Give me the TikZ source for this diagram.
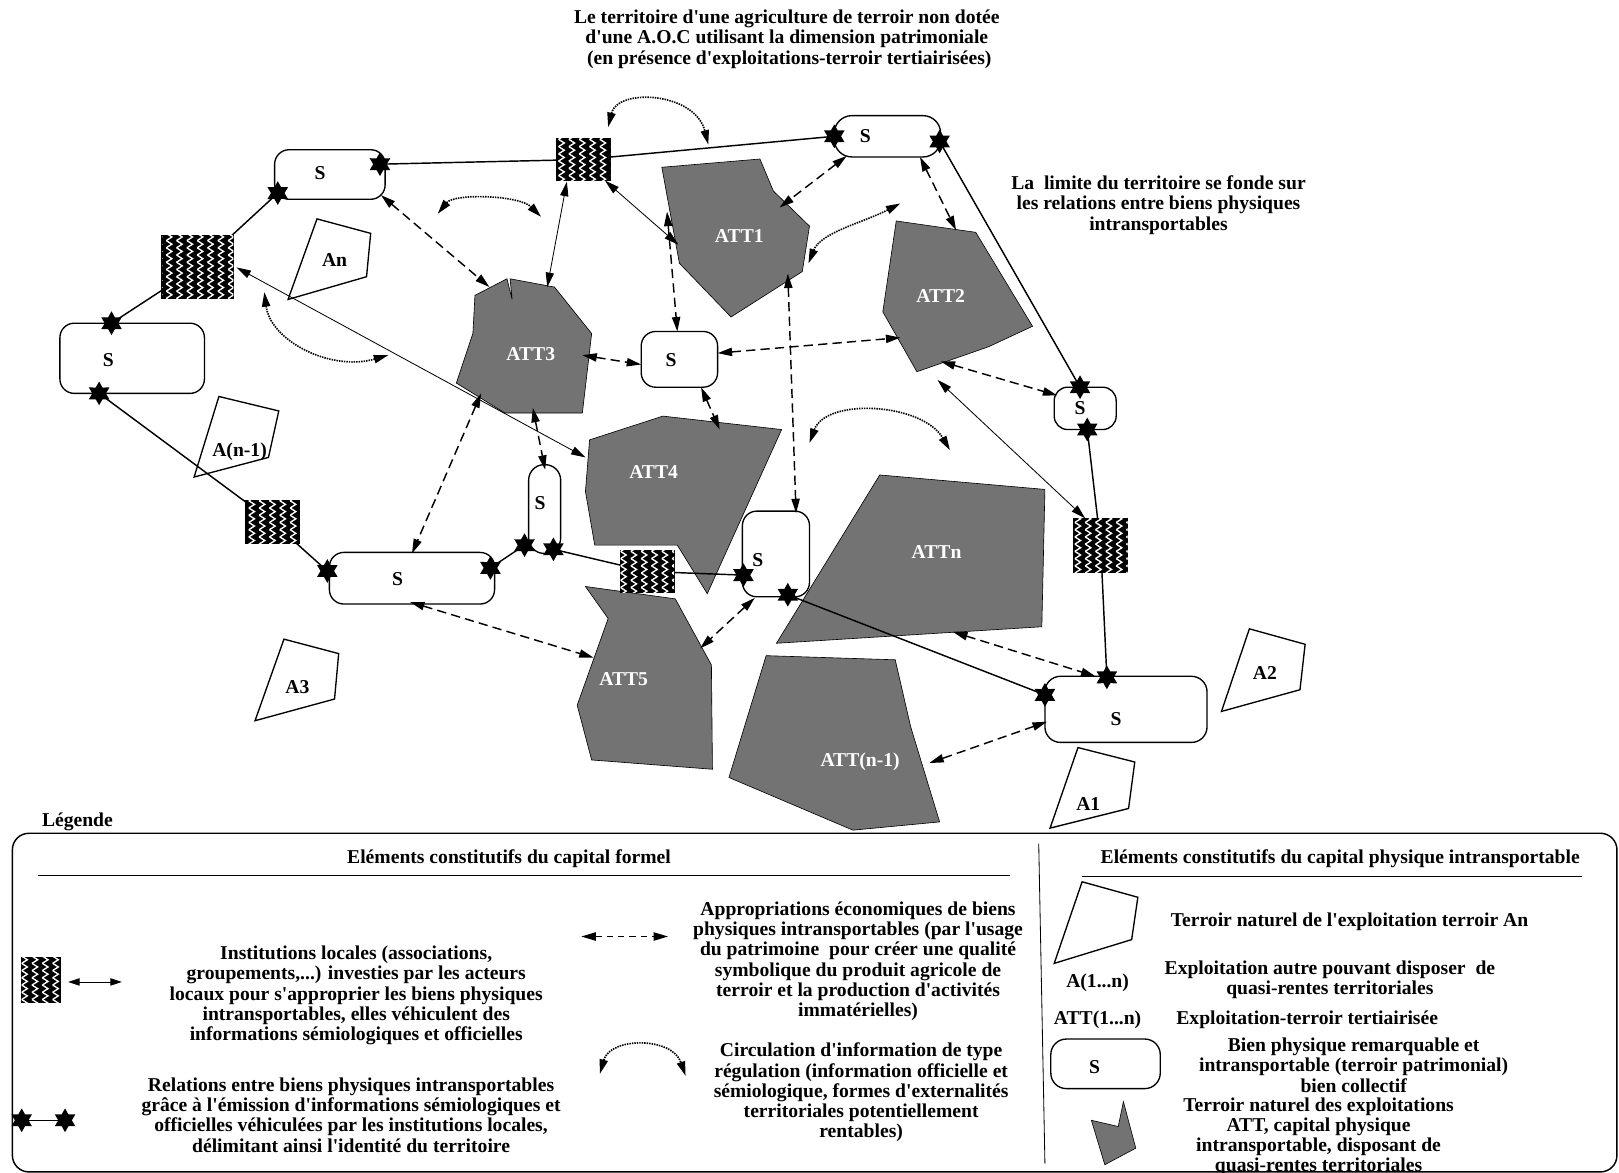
\documentclass[tikz,border=0pt]{standalone}
\usepackage{fontspec}
\newfontfamily\lserif{Liberation Serif}
\usepackage{xcolor}
\usepackage{tikz}
\usetikzlibrary{arrows.meta,positioning,shapes.geometric,patterns}
\definecolor{attgray}{RGB}{115,115,115}
\pgfdeclarelayer{bg}
\pgfsetlayers{bg,main}
\pgfdeclarepatternformonly{zigzag}{\pgfpoint{-1pt}{-1pt}}{\pgfpoint{11pt}{8pt}}{\pgfpoint{10pt}{7pt}}{%
  \pgfsetlinewidth{1.3pt}%
  \pgfpathmoveto{\pgfpoint{1pt}{0pt}}%
  \pgfpathlineto{\pgfpoint{6.5pt}{3.5pt}}%
  \pgfpathlineto{\pgfpoint{1pt}{7pt}}%
  \pgfusepath{stroke}%
}

\begin{document}
\begin{tikzpicture}[x=1pt, y=-1pt,
  txt/.style={font=\lserif\fontsize{19}{19.6}\selectfont\bfseries, align=center, inner sep=0pt},
  wtxt/.style={txt, text=white},
  sbox/.style={draw, line width=1.3pt, fill=white, rounded corners=14pt, inner sep=0pt},
  inst/.style={draw, line width=1.2pt, fill=black, inner sep=0pt,
               postaction={pattern=zigzag, pattern color=white}},
  etoile/.style={star, star points=6, star point ratio=1.75, fill=black,
                 minimum size=23pt, inner sep=0pt},
  rel/.style={line width=1.4pt},
  att/.style={fill=attgray, draw=black, line width=0.6pt},
  aterr/.style={draw=black, fill=white, line width=1.3pt},
  bothtips/.style={{Triangle[length=14pt,width=8pt]}-{Triangle[length=14pt,width=8pt]}},
  fin/.style={bothtips, line width=0.8pt},
  appr/.style={bothtips, line width=1.4pt, dash pattern=on 9pt off 5pt},
  circul/.style={bothtips, line width=1.6pt, dash pattern=on 1.4pt off 1pt}
]
  \useasboundingbox (0,0) rectangle (1568,1136);

  \node[txt] (titre) at (762,38) {Le territoire d'une agriculture de terroir non dotée\\
    d'une A.O.C utilisant la dimension patrimoniale\\
    \ (en présence d'exploitations-terroir tertiairisées)};
  \node[txt] (limite) at (1122,198.6) {La\ \ limite du territoire se fonde sur\\
    les relations entre biens physiques\\ intransportables};

  % biens physiques S
  \node[sbox, minimum width=107pt, minimum height=48pt] (sa) at (319.5,169) {};
  \node[sbox, minimum width=103pt, minimum height=40pt, rounded corners=17pt] (sb) at (859.5,132) {};
  \node[sbox, minimum width=140pt, minimum height=68pt] (sc) at (128,347) {};
  \node[sbox, minimum width=74pt, minimum height=54pt] (sd) at (658,348) {};
  \node[sbox, minimum width=60pt, minimum height=41pt, rounded corners=13pt] (se) at (1051,395.5) {};
  \node[sbox, minimum width=31pt, minimum height=86pt, rounded corners=15pt] (sf) at (527.5,493) {};
  \node[sbox, minimum width=160pt, minimum height=50pt] (sg) at (399,560) {};
  \node[sbox, minimum width=65pt, minimum height=83pt] (sh) at (751.5,536.5) {};
  \node[sbox, minimum width=157pt, minimum height=64pt, rounded corners=15pt] (si) at (1090.5,687) {};
  \node[txt] (sa-t) at (310,168) {S};
  \node[txt] (sb-t) at (838,132) {S};
  \node[txt] (sc-t) at (105,349) {S};
  \node[txt] (sd-t) at (650,349) {S};
  \node[txt] (se-t) at (1046,395) {S};
  \node[txt] (sf-t) at (523,487) {S};
  \node[txt] (sg-t) at (385,561) {S};
  \node[txt] (sh-t) at (734,542) {S};
  \node[txt] (si-t) at (1081,696) {S};

  % institutions locales
  \node[inst, minimum width=52pt, minimum height=41pt] (h1) at (565,154.5) {};
  \node[inst, minimum width=69pt, minimum height=61pt] (h2) at (191.5,258.5) {};
  \node[inst, minimum width=52pt, minimum height=41pt] (h3) at (264,505.5) {};
  \node[inst, minimum width=52pt, minimum height=41pt] (h4) at (627,553.5) {};
  \node[inst, minimum width=52pt, minimum height=52pt] (h5) at (1066,528) {};

  % etoiles
  \node[etoile] (sa-r) at (368,159) {};
  \node[etoile] (sa-g) at (269,187) {};
  \node[etoile] (sb-g) at (808,132) {};
  \node[etoile] (sb-r) at (910,137) {};
  \node[etoile] (sc-h) at (108,313) {};
  \node[etoile] (sc-b) at (96,381) {};
  \node[etoile] (se-h) at (1046,375) {};
  \node[etoile] (se-b) at (1053,416) {};
  \node[etoile] (sg-g) at (317,553) {};
  \node[etoile] (sg-r) at (475,550) {};
  \node[etoile] (sf-g) at (508,528) {};
  \node[etoile] (sf-r) at (536,532) {};
  \node[etoile] (sh-g) at (720,557) {};
  \node[etoile] (sh-b) at (763,576) {};
  \node[etoile] (si-g) at (1012,673) {};
  \node[etoile] (si-h) at (1072,656) {};

  % exploitations
  \node[txt] (an) at (324,252) {An};
  \node[txt] (an1) at (232,438) {A(n-1)};
  \node[txt] (a3) at (288,665) {A3};
  \node[txt] (a2) at (1225,652) {A2};
  \node[txt] (a1) at (1054,779) {A1};
  \node[wtxt] (att1) at (716,229) {ATT1};
  \node[wtxt] (att2) at (911,287) {ATT2};
  \node[wtxt] (att3) at (514,343) {ATT3};
  \node[wtxt] (att4) at (633,457) {ATT4};
  \node[wtxt] (att5) at (604,658) {ATT5};
  \node[wtxt] (attn) at (907,535) {ATTn};
  \node[wtxt] (attm) at (833,738) {ATT(n-1)};

  \begin{pgfonlayer}{bg}
    \draw[aterr] (307,212) -- (359,226) -- (355,268) -- (279,290) -- cycle;
    \draw[aterr] (212,384) -- (270,398) -- (260,443) -- (188,462) -- cycle;
    \draw[aterr] (275,619) -- (328,633) -- (324,677) -- (247,698) -- cycle;
    \draw[aterr] (1210,609) -- (1264,624) -- (1259,668) -- (1183,689) -- cycle;
    \draw[aterr] (1044,724) -- (1099,738) -- (1093,783) -- (1017,802) -- cycle;
    \draw[att] (641,162) -- (736,154) -- (749,185) -- (784,219) -- (777,263) -- (708,307) -- (658,255) -- cycle;
    \draw[att] (868,214) -- (945,225) -- (1000,316) -- (957,336) -- (888,360) -- (855,302) -- cycle;
    \draw[att] (460,286) -- (491,270) -- (496,290) -- (494,270) -- (537,278) -- (573,323) -- (564,400) -- (489,400) -- (442,371) -- (458,323) -- cycle;
    \draw[att] (571,426) -- (642,403) -- (757,416) -- (685,575) -- (656,528) -- (576,528) -- (567,476) -- cycle;
    \draw[att] (567,568) -- (654,580) -- (689,644) -- (690,745) -- (573,736) -- (559,683) -- (589,599) -- cycle;
    \draw[att] (852,460) -- (1012,474) -- (1009,607) -- (752,623) -- cycle;
    \draw[att] (742,635) -- (867,639) -- (882,704) -- (910,796) -- (826,804) -- (706,753) -- cycle;

    \draw[rel] (sa-r.center) -- (h1.center) -- (sb-g.center);
    \draw[rel] (sa-g.center) -- (h2.center) -- (sc-h.center);
    \draw[rel] (sc-b.center) -- (h3.center) -- (sg-g.center);
    \draw[rel] (sg-r.center) -- (sf-g.center);
    \draw[rel] (sf-r.center) -- (h4.center) -- (sh-g.center);
    \draw[rel] (sh-b.center) -- (si-g.center);
    \draw[rel] (sb-r.center) -- (se-h.center);
    \draw[rel] (se-b.center) -- (h5.center) -- (si-h.center);
  \end{pgfonlayer}

  % appropriations
  \coordinate (sa-a) at (369,189);    \coordinate (att3-a) at (474,278);
  \coordinate (sb-a) at (820,151);    \coordinate (att1-a) at (755,201);
  \coordinate (sb-b) at (891,152);    \coordinate (att2-a) at (926,223);
  \coordinate (att1-b) at (646,205);  \coordinate (sd-a) at (656,321);
  \coordinate (att3-b) at (564,344);  \coordinate (sd-b) at (621,353);
  \coordinate (sd-c) at (695,342);    \coordinate (att2-b) at (872,327);
  \coordinate (sd-d) at (679,375);    \coordinate (att4-a) at (697,416);
  \coordinate (att1-c) at (763,265);  \coordinate (sh-a) at (771,497);
  \coordinate (att2-c) at (911,350);  \coordinate (se-a) at (1024,383);
  \coordinate (att3-c) at (466,381);  \coordinate (sg-a) at (399,536);
  \coordinate (att3-d) at (516,395);  \coordinate (sf-a) at (528,455);
  \coordinate (sg-b) at (397,583);    \coordinate (att5-a) at (575,637);
  \coordinate (sh-c) at (731,579);    \coordinate (att5-b) at (678,628);
  \coordinate (attn-a) at (923,612);  \coordinate (si-a) at (1061,655);
  \coordinate (si-b) at (1014,699);   \coordinate (attm-a) at (900,739);
  \draw[appr] (sa-a) -- (att3-a);
  \draw[appr] (sb-a) -- (att1-a);
  \draw[appr] (sb-b) -- (att2-a);
  \draw[appr] (att1-b) -- (sd-a);
  \draw[appr] (att3-b) -- (sd-b);
  \draw[appr] (sd-c) -- (att2-b);
  \draw[appr] (sd-d) -- (att4-a);
  \draw[appr] (att1-c) -- (sh-a);
  \draw[appr] (att2-c) -- (se-a);
  \draw[appr] (att3-c) -- (sg-a);
  \draw[appr] (att3-d) -- (sf-a);
  \draw[appr] (sg-b) -- (att5-a);
  \draw[appr] (sh-c) -- (att5-b);
  \draw[appr] (attn-a) -- (si-a);
  \draw[appr] (si-b) -- (attm-a);

  % institutions -> biens
  \coordinate (h1-a) at (549,176);    \coordinate (att3-e) at (530,278);
  \coordinate (h1-b) at (586,175);    \coordinate (att1-d) at (657,237);
  \coordinate (h2-a) at (229,259);    \coordinate (att4-b) at (567,443);
  \coordinate (att2-d) at (908,368);  \coordinate (h5-a) at (1051,502);
  \draw[fin] (h1-a) -- (att3-e);
  \draw[fin] (h1-b) -- (att1-d);
  \draw[fin] (h2-a) -- (att4-b);
  \draw[fin] (att2-d) -- (h5-a);

  % circulation d'information
  \coordinate (ci1-a) at (589,123);   \coordinate (ci1-b) at (686,140);
  \coordinate (ci2-a) at (424,207);   \coordinate (ci2-b) at (524,210);
  \coordinate (ci3-a) at (256,283);   \coordinate (ci3-b) at (376,344);
  \coordinate (ci4-a) at (783,255);   \coordinate (ci4-b) at (872,197);
  \coordinate (ci5-a) at (784,429);   \coordinate (ci5-b) at (920,436);
  \draw[circul] (ci1-a) .. controls (598,85) and (673,89) .. (ci1-b);
  \draw[circul] (ci2-a) .. controls (440,187) and (503,189) .. (ci2-b);
  \draw[circul] (ci3-a) .. controls (262,330) and (320,360) .. (ci3-b);
  \draw[circul] (ci4-a) .. controls (795,225) and (835,216) .. (ci4-b);
  \draw[circul] (ci5-a) .. controls (800,385) and (893,390) .. (ci5-b);

  % legende
  \node[txt] (legende) at (75,796) {Légende};
  \draw[line width=1.4pt, rounded corners=16pt] (12,807) rectangle (1566,1135);
  \draw[line width=0.8pt] (1006,817) -- (1012,1127);
  \node[txt] (formel) at (493,832) {Eléments constitutifs du capital formel};
  \node[txt] (physique) at (1298,832) {Eléments constitutifs du capital physique intransportable};
  \draw[line width=0.8pt] (37,848) -- (978,848);
  \draw[line width=0.8pt] (1048,849) -- (1532,849);

  \node[inst, minimum width=37pt, minimum height=44pt] (leg-inst) at (39.5,949) {};
  \coordinate (leg-fa) at (66,951);   \coordinate (leg-fb) at (118,951);
  \draw[fin, {Triangle[length=11pt,width=7pt]}-{Triangle[length=11pt,width=7pt]}] (leg-fa) -- (leg-fb);
  \node[txt] (leg-inst-t) at (345,964) {Institutions locales (associations,\\
    groupements,...) investies par les acteurs\\ locaux pour s'approprier les biens physiques\\
    intransportables, elles véhiculent des\\ informations sémiologiques et officielles};

  \node[etoile] (leg-e1) at (21,1085) {};
  \node[etoile] (leg-e2) at (63,1085) {};
  \begin{pgfonlayer}{bg}
    \draw[rel] (leg-e1.center) -- (leg-e2.center);
  \end{pgfonlayer}
  \node[txt] (leg-rel-t) at (340,1080) {Relations entre biens physiques intransportables\\
    grâce à l'émission d'informations sémiologiques et\\
    officielles véhiculées par les institutions locales,\\ délimitant ainsi l'identité du territoire};

  \coordinate (leg-aa) at (563,907);  \coordinate (leg-ab) at (647,907);
  \draw[appr, dash pattern=on 6pt off 5pt] (leg-aa) -- (leg-ab);
  \node[txt] (leg-appr-t) at (831,931) {Appropriations économiques de biens\\
    physiques intransportables (par l'usage\\ du patrimoine\ \ pour créer une qualité\\
    symbolique du produit agricole de\\ terroir et la production d'activités\\ immatérielles)};

  \coordinate (leg-ca) at (581,1040); \coordinate (leg-cb) at (664,1042);
  \draw[circul] (leg-ca) .. controls (591,1004) and (651,1004) .. (leg-cb);
  \node[txt] (leg-circ-t) at (834,1058) {Circulation d'information de type\\
    régulation (information officielle et\\ sémiologique, formes d'externalités\\
    territoriales potentiellement\\ rentables)};

  \draw[aterr] (1048,854) -- (1102,869) -- (1096,910) -- (1021,933) -- cycle;
  \node[txt] (leg-an-t) at (1307,893) {Terroir naturel de l'exploitation terroir An};
  \node[txt] (leg-a) at (1063,952) {A(1...n)};
  \node[txt] (leg-a-t) at (1288,949) {Exploitation autre pouvant disposer\ \ de\\ quasi-rentes territoriales};
  \node[txt] (leg-att) at (1063,988) {ATT(1...n)};
  \node[txt] (leg-att-t) at (1266,988) {Exploitation-terroir tertiairisée};
  \node[sbox, minimum width=106pt, minimum height=48pt, rounded corners=15pt] (leg-s) at (1070.7,1030.3) {};
  \node[txt] (leg-s-l) at (1060,1033) {S};
  \node[txt] (leg-s-t) at (1311,1031.5) {Bien physique remarquable et\\
    intransportable (terroir patrimonial)\\ bien collectif};
  \draw[att] (1057,1085) -- (1083,1091) -- (1088,1067) -- (1100,1112) -- (1070,1128) -- cycle;
  \node[txt] (leg-t-t) at (1277,1101) {Terroir naturel des exploitations\\
    ATT, capital physique\\ intransportable, disposant de\\ quasi-rentes territoriales};
\end{tikzpicture}
\end{document}
